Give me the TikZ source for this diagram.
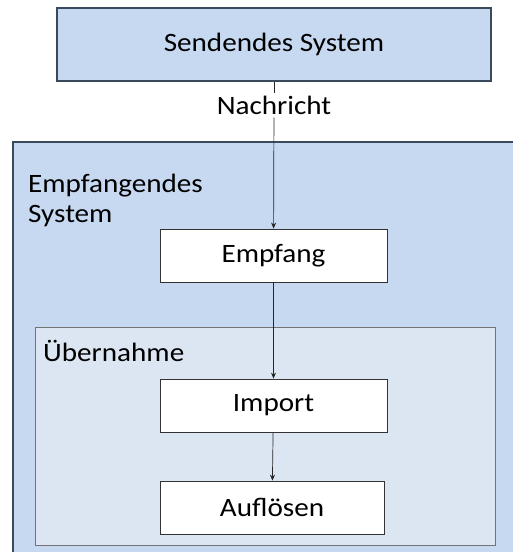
\documentclass[tikz,border=0pt]{standalone}
\usepackage{fontspec}
\setmainfont{Carlito}[FakeStretch=1.1]
\usetikzlibrary{arrows.meta}
\definecolor{sysblue}{HTML}{C6D9F1}
\definecolor{subblue}{HTML}{DCE6F2}
\definecolor{sysedge}{HTML}{3A4A5C}
\begin{document}
\begin{tikzpicture}[x=1pt, y=-1pt,
    sysbox/.style={draw=sysedge, line width=2pt, fill=sysblue},
    stepbox/.style={rectangle, draw=black!80, line width=0.8pt, fill=white, font=\fontsize{26.5}{30}\selectfont},
    flow/.style={draw=black!85, line width=0.7pt},
    txt/.style={font=\fontsize{26.5}{30}\selectfont, inner sep=0pt}]
        \useasboundingbox (0,0) rectangle (513,552);
        \fill[white] (0,0) rectangle (513,552);

        % Containers
        \draw[sysbox] (13,142) rectangle (540,580);
        \draw[draw=gray!90!black, line width=0.8pt, fill=subblue] (35,327) rectangle (495,545);

        % Nodes
        \node (sender) [sysbox, minimum width=434pt, minimum height=73pt, txt] at (274,44.5) {Sendendes System};
        \node (msg) [txt, fill=white, inner sep=3pt] at (274,105) {Nachricht};
        \node (recvlabel) [txt, anchor=base west, align=left] at (28,222) {Empfangendes\\System};
        \node (empfang) [stepbox, minimum width=227pt, minimum height=53pt] at (273.5,255.5) {Empfang};
        \node (uebernahme) [txt, anchor=base west] at (43,361) {Übernahme};
        \node (import) [stepbox, minimum width=227pt, minimum height=53pt] at (273.5,405.5) {Import};
        \node (aufloesen) [stepbox, minimum width=224pt, minimum height=53pt] at (272,507.5) {Auflösen};

        % Edges
        \draw[flow] (sender) -- (msg);
        \draw[flow, -{Stealth[length=6pt,width=5pt]}] (msg) -- (empfang);
        \draw[flow, -{Stealth[length=6pt,width=5pt]}] (empfang) -- (import);
        \draw[flow, -{Stealth[length=6pt,width=5pt]}] (import) -- (aufloesen);

    \end{tikzpicture}
\end{document}
